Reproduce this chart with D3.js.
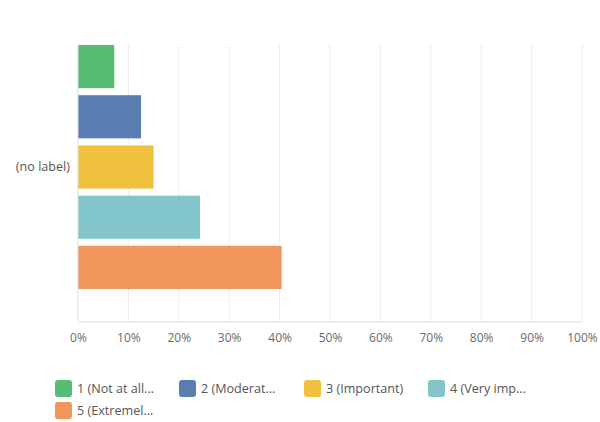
<!DOCTYPE html>
<html><head><meta charset="utf-8">
<script src="https://cdn.jsdelivr.net/npm/d3@7"></script>
<style>body{margin:0;background:#fff;}text{font-family:"Open Sans",sans-serif;}</style>
</head><body><svg id="c" width="600" height="422"></svg>
<script>
const categories = ["(no label)"];
const seriesNames = ["1 (Not at all...", "2 (Moderat...", "3 (Important)", "4 (Very imp...", "5 (Extremel..."];
const seriesValues = [7.2, 12.5, 15.0, 24.2, 40.4];
const colors = ["#57bd74", "#5a7db2", "#f0c03f", "#82c5ca", "#f0955b"];
const tickValues = [0,10,20,30,40,50,60,70,80,90,100];

const svg = d3.select("#c");
const L = 78, R = 582, T = 45, B = 322;
const x = d3.scaleLinear().domain([0,100]).range([L,R]);
const y = d3.scaleBand().domain(categories).range([T, 288 + 1]);
const inner = d3.scaleBand().domain(seriesNames).range([0, y.bandwidth()]).paddingInner(0.14);

svg.append("g").selectAll("line").data(tickValues.slice(1)).join("line")
  .attr("x1", d=>x(d)).attr("x2", d=>x(d)).attr("y1", T).attr("y2", B)
  .attr("stroke", "#ececec").attr("stroke-width", 1);

const g = svg.append("g");
categories.forEach(cat => {
  g.selectAll("rect").data(seriesValues).join("rect")
    .attr("x", x(0)).attr("y", (d,i)=>y(cat)+inner(seriesNames[i]))
    .attr("width", d=>x(d)-x(0)).attr("height", inner.bandwidth())
    .attr("fill", (d,i)=>colors[i]);
});

svg.append("line").attr("x1", L).attr("x2", L).attr("y1", T).attr("y2", B).attr("stroke","#dcdcdc");
svg.append("line").attr("x1", L).attr("x2", R).attr("y1", B).attr("y2", B).attr("stroke","#dcdcdc");

const xa = svg.append("g").attr("transform", `translate(0,${B})`)
  .call(d3.axisBottom(x).tickValues(tickValues).tickFormat(d=>d+"%").tickSize(0).tickPadding(11));
xa.select(".domain").remove();
xa.selectAll("text").attr("fill","#6b6b6b").style("font-size","12px").style("font-family","'Open Sans',sans-serif");

categories.forEach(cat => {
  svg.append("text").attr("x", 70).attr("y", y(cat)+y.bandwidth()/2).attr("dy","0.35em")
    .attr("text-anchor","end").attr("fill","#555").style("font-size","12.6px").text(cat);
});

const lx = [55, 179, 304, 428];
const leg = svg.append("g");
seriesNames.forEach((s,i)=>{
  const row = Math.floor(i/4), col = i%4;
  const gx = lx[col], gy = 380 + row*22;
  leg.append("rect").attr("x", gx).attr("y", gy).attr("width",17).attr("height",17).attr("rx",3)
    .attr("fill", colors[i]);
  leg.append("text").attr("x", gx+22).attr("y", gy+8.5).attr("dy","0.35em")
    .attr("fill","#555").style("font-size","12.6px").text(s);
});
</script></body></html>
